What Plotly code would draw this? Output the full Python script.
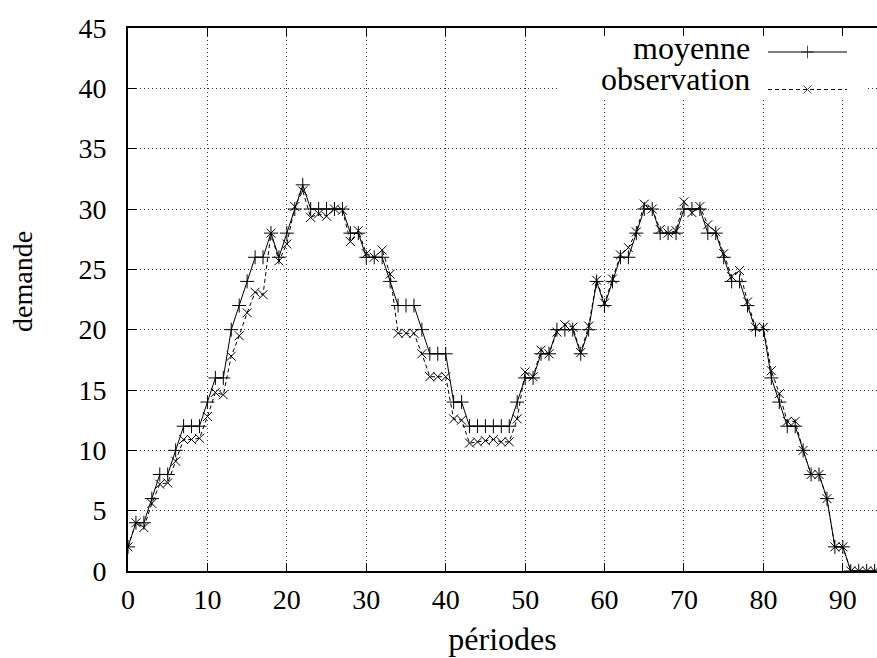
import plotly.graph_objects as go

periodes = list(range(0, 95))
moyenne = [2, 4, 4, 6, 8, 8, 10, 12, 12, 12, 14, 16, 16, 20, 22, 24, 26, 26, 28, 26,
           28, 30, 32, 30, 30, 30, 30, 30, 28, 28, 26, 26, 26, 24, 22, 22, 22, 20, 18, 18,
           18, 14, 14, 12, 12, 12, 12, 12, 12, 14, 16, 16, 18, 18, 20, 20, 20, 18, 20, 24,
           22, 24, 26, 26, 28, 30, 30, 28, 28, 28, 30, 30, 30, 28, 28, 26, 24, 24, 22, 20,
           20, 16, 14, 12, 12, 10, 8, 8, 6, 2, 2, 0, 0, 0, 0]
observation = [2, 4, 3.6, 5.6, 7.2, 7.3, 9.1, 10.9, 10.9, 11, 12.8, 14.8, 14.6, 17.8, 19.5,
               21.4, 23.1, 22.9, 28, 25.7, 27.1, 30.2, 31.5, 29.3, 29.6, 29.4, 30, 29.9, 27.3,
               28.2, 26.3, 26, 26.6, 24.6, 19.7, 19.7, 19.7, 18, 16.1, 16.1, 16.1, 12.6, 12.5,
               10.6, 10.7, 10.8, 10.9, 10.7, 10.7, 12.6, 16.5, 16.1, 18.3, 18, 19.8, 20.4, 20.2,
               18.1, 20.3, 24.1, 22.2, 24.2, 26.2, 26.8, 28.1, 30.4, 30, 28.3, 28, 28.2, 30.6,
               29.7, 30.2, 28.7, 28.1, 26.3, 24.4, 24.9, 22.3, 20.2, 20.2, 16.6, 14.7, 12.4,
               12.4, 10, 8, 8, 6, 2, 2, 0, 0, 0, 0]
series_names = ["moyenne", "observation"]
x_ticks = list(range(0, 100, 10))
y_ticks = list(range(0, 50, 5))

FONT = "Liberation Serif"
FS = 28
FS_TXT = 32
W, H = 877, 658
ML, MR, MT, MB = 128, 0, 28, 87

def px_x(p):
    return (p - ML) / (W - ML - MR)

def px_y(p):
    return (H - MB - p) / (H - MT - MB)

fig = go.Figure()
fig.add_trace(go.Scatter(
    x=periodes, y=moyenne, name=series_names[0], mode="lines+markers",
    line=dict(color="black", width=1),
    marker=dict(symbol="cross-thin", size=10, line=dict(color="black", width=1)),
    showlegend=False))
fig.add_trace(go.Scatter(
    x=periodes, y=observation, name=series_names[1], mode="lines+markers",
    line=dict(color="black", width=1, dash="4px,3px"),
    marker=dict(symbol="x-thin", size=9, line=dict(color="black", width=1)),
    showlegend=False))

# gnuplot-style key box (white background hiding the grid)
bx0, bx1, by0, by1 = px_x(560), px_x(866), px_y(98), px_y(29)
fig.add_trace(go.Scatter(
    x=[bx0, bx1, bx1, bx0, bx0], y=[by0, by0, by1, by1, by0], xaxis="x2", yaxis="y2",
    mode="lines", fill="toself", fillcolor="white", line=dict(width=0, color="white"),
    showlegend=False, hoverinfo="skip"))
# key samples: text on the left, sample on the right
fig.add_trace(go.Scatter(
    x=[px_x(768), px_x(807.5), px_x(847)], y=[px_y(52)] * 3, xaxis="x2", yaxis="y2",
    mode="lines+markers", line=dict(color="black", width=1),
    marker=dict(symbol="cross-thin", size=[0, 9, 0], line=dict(color="black", width=1)),
    showlegend=False, hoverinfo="skip"))
fig.add_trace(go.Scatter(
    x=[px_x(768), px_x(807.5), px_x(847)], y=[px_y(89.5)] * 3, xaxis="x2", yaxis="y2",
    mode="lines+markers", line=dict(color="black", width=1, dash="4px,3px"),
    marker=dict(symbol="x-thin", size=[0, 8, 0], line=dict(color="black", width=1)),
    showlegend=False, hoverinfo="skip"))

fig.add_annotation(text=series_names[0], xref="paper", yref="paper",
                   x=px_x(752), y=px_y(48), xanchor="right", yanchor="middle",
                   showarrow=False, font=dict(family=FONT, size=FS_TXT, color="black"))
fig.add_annotation(text=series_names[1], xref="paper", yref="paper",
                   x=px_x(752), y=px_y(79), xanchor="right", yanchor="middle",
                   showarrow=False, font=dict(family=FONT, size=FS_TXT, color="black"))
fig.add_annotation(text="demande", xref="paper", yref="paper",
                   x=px_x(22), y=px_y(282), xanchor="center", yanchor="middle",
                   textangle=-90, showarrow=False,
                   font=dict(family=FONT, size=FS, color="black"))

axis_common = dict(
    showline=True, linecolor="black", linewidth=1.6,
    ticks="inside", ticklen=8, tickwidth=1, tickcolor="black",
    showgrid=True, gridcolor="#333333", gridwidth=1, griddash="1px,3px",
    zeroline=False, automargin=False,
    tickfont=dict(family=FONT, size=FS, color="black"),
)

fig.update_layout(
    width=W, height=H,
    margin=dict(l=ML, r=MR, t=MT, b=MB, autoexpand=False),
    paper_bgcolor="white", plot_bgcolor="white",
    font=dict(family=FONT, size=FS, color="black"),
    xaxis=dict(range=[0, 94.3], tickvals=x_ticks, mirror="ticks",
               ticklabelstandoff=3,
               title=dict(text="périodes", font=dict(family=FONT, size=FS_TXT), standoff=13),
               **axis_common),
    yaxis=dict(range=[0, 45], tickvals=y_ticks, mirror=False,
               ticklabelstandoff=14, **axis_common),
    xaxis2=dict(overlaying="x", range=[0, 1], visible=False, fixedrange=True),
    yaxis2=dict(overlaying="y", range=[0, 1], visible=False, fixedrange=True),
    showlegend=False,
)

fig.write_html("out.html", config={"displayModeBar": False},
               post_script="document.body.style.margin='0px';")
